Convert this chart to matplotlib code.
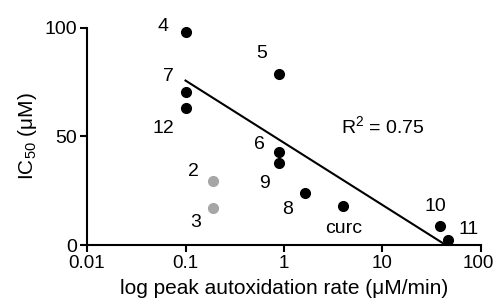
import numpy as np
import matplotlib
matplotlib.use('Agg')
import matplotlib.pyplot as plt
import matplotlib.transforms as mtransforms

plt.rcParams['font.family'] = ['Liberation Sans', 'DejaVu Sans']
plt.rcParams['mathtext.fontset'] = 'custom'
plt.rcParams['mathtext.rm'] = 'Liberation Sans'
plt.rcParams['mathtext.it'] = 'Liberation Sans:italic'

# compounds: black = in fit, grey = excluded
names = ['4', '7', '12', '5', '6', '9', '8', 'curc', '10', '11']
rate = [0.1, 0.1, 0.1, 0.9, 0.9, 0.9, 1.65, 4.0, 38, 46]
ic50 = [98, 70.5, 63, 79, 43, 38, 24, 18, 8.7, 2.3]
grey_names = ['2', '3']
grey_rate = [0.19, 0.19]
grey_ic50 = [29.6, 17.2]
r2_text = 'R$^{2}$ = 0.75'

# label offsets in pixels
offsets = {'4': (-23, 6), '7': (-17, 15), '12': (-22, -20), '5': (-18, 20),
           '6': (-20, 7), '9': (-15, -21), '8': (-18, -17), 'curc': (0, -23),
           '10': (-4, 20), '11': (21, 11), '2': (-20, 9), '3': (-17, -15)}

fs = 14

fig = plt.figure(figsize=(4.95, 3.04), dpi=100)
ax = fig.add_axes([0.1758, 0.194, 0.7959, 0.714])
ax.set_xscale('log')

ax.plot(rate, ic50, 'o', color='black', ms=7, clip_on=False, zorder=3)
ax.plot(grey_rate, grey_ic50, 'o', color='#a6a6a6', ms=7, clip_on=False, zorder=3)

# linear fit of IC50 against log rate
lx = np.log10(rate)
b, a = np.polyfit(lx, ic50, 1)
x0 = lx.min()
x1 = -a / b
xs = np.array([x0, x1])
ax.plot(10 ** xs, a + b * xs, color='black', lw=1.5, zorder=2)

for n, x, y in list(zip(names, rate, ic50)) + list(zip(grey_names, grey_rate, grey_ic50)):
    ax.annotate(n, (x, y), xytext=offsets[n], textcoords='offset pixels',
                ha='center', va='center', fontsize=fs)

ax.text(10, 54.8, r2_text, ha='center', va='center', fontsize=fs)

ax.set_xlim(0.01, 100)
ax.set_ylim(0, 100)
ax.set_xticks([0.01, 0.1, 1, 10, 100])
ax.set_xticklabels(['0.01', '0.1', '1', '10', '100'])
ax.minorticks_off()
ax.set_yticks([0, 50, 100])
for s in ['top', 'right']:
    ax.spines[s].set_visible(False)
for s in ['left', 'bottom']:
    ax.spines[s].set_linewidth(1.5)
ax.tick_params(direction='out', length=5, width=1.5, labelsize=fs, pad=2)
ax.tick_params(axis='x', labelsize=13.5)
ax.set_xlabel('log peak autoxidation rate (μM/min)', fontsize=15, labelpad=5)
ax.set_ylabel('IC$_{50}$ (μM)', fontsize=15, labelpad=4)

# keep the last x tick label inside the canvas
last = ax.get_xticklabels()[-1]
last.set_transform(last.get_transform() + mtransforms.ScaledTranslation(-3 / 100, 0, fig.dpi_scale_trans))

fig.savefig('out.png', dpi=100)
